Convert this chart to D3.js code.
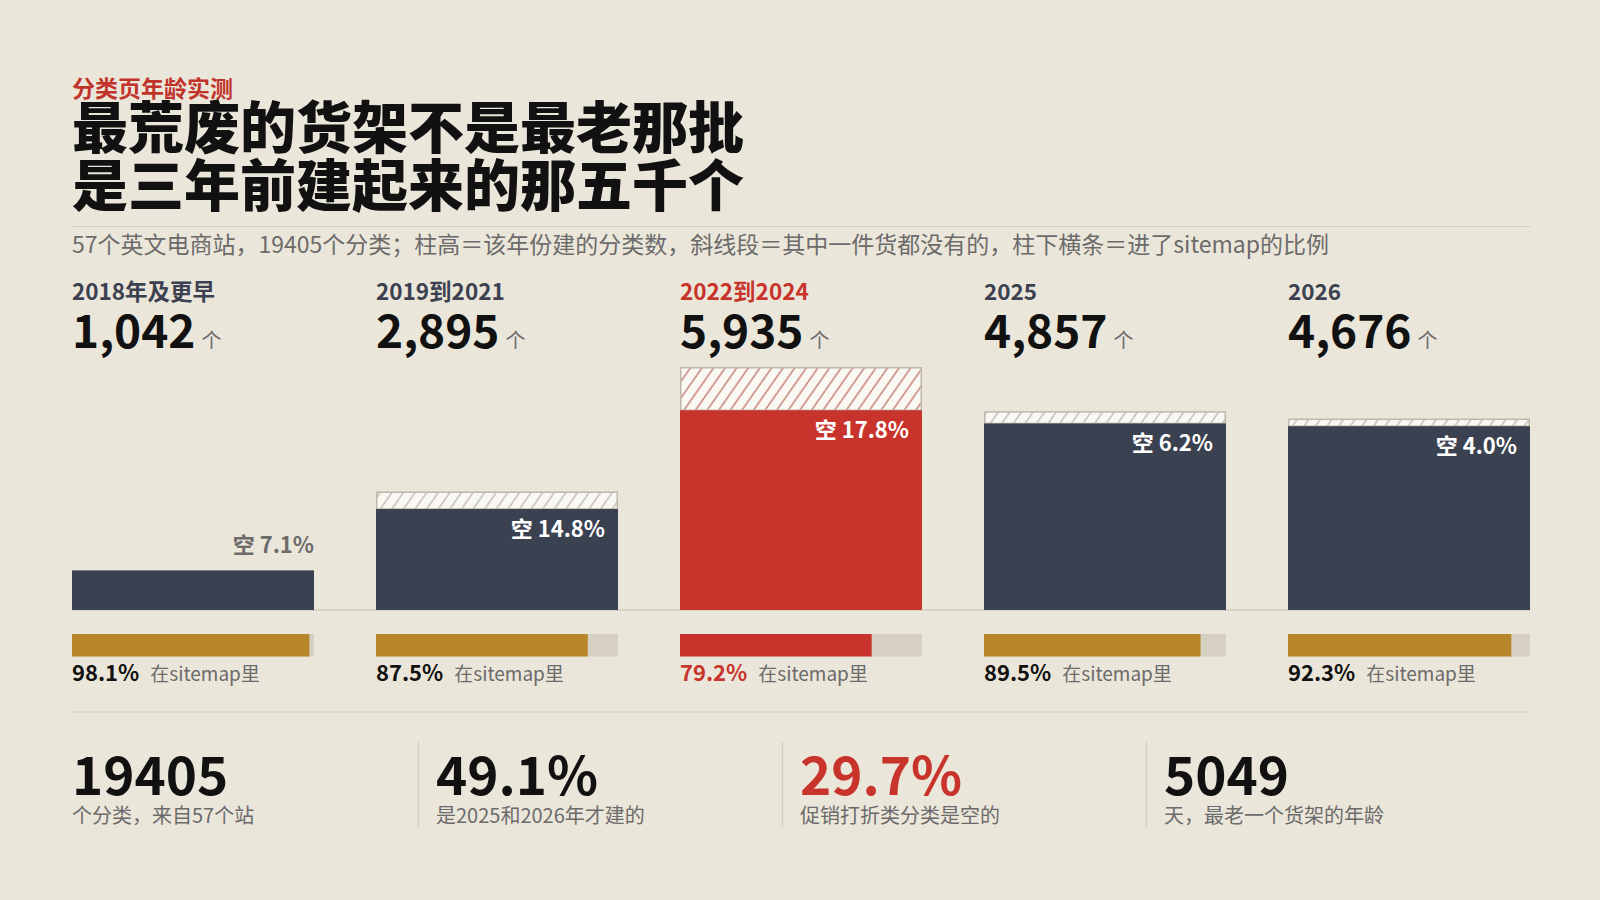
<!DOCTYPE html>
<html><head><meta charset="utf-8">
<script src="https://cdn.jsdelivr.net/npm/d3@7"></script>
<style>
html,body{margin:0;padding:0;background:#ebe6da;}
svg{display:block;font-family:"Noto Sans CJK SC","Noto Sans",sans-serif;}
</style></head><body>
<svg id="chart" width="1600" height="900"></svg>
<script>
// ---- data ----
const eyebrow = "分类页年龄实测";
const titleLines = ["最荒废的货架不是最老那批", "是三年前建起来的那五千个"];
const subtitle = "57个英文电商站，19405个分类；柱高＝该年份建的分类数，斜线段＝其中一件货都没有的，柱下横条＝进了sitemap的比例";
const categories = ["2018年及更早", "2019到2021", "2022到2024", "2025", "2026"];
const counts = [1042, 2895, 5935, 4857, 4676];
const emptyPct = [7.1, 14.8, 17.8, 6.2, 4.0];
const sitemapPct = [98.1, 87.5, 79.2, 89.5, 92.3];
const highlightIndex = 2;
const kpiValues = ["19405", "49.1%", "29.7%", "5049"];
const kpiLabels = ["个分类，来自57个站", "是2025和2026年才建的", "促销打折类分类是空的", "天，最老一个货架的年龄"];
const kpiHighlight = 2;

// ---- style ----
const C = {
  bg: "#ebe6da", dark: "#3a4150", red: "#c8342c", gold: "#b8862a", track: "#d6d0c3",
  rule: "#d3cdbf", ink: "#111111", gray: "#6b6b6b", head: "#3b4150",
  hatchFill: "#faf8f2", hatchStroke: "#bfb8aa"
};
const left = 72, right = 1530, baseY = 610, topY = 367;

const svg = d3.select("#chart");
svg.append("rect").attr("width", 1600).attr("height", 900).attr("fill", C.bg);

const defs = svg.append("defs");
function hatch(id, color) {
  const p = defs.append("pattern").attr("id", id).attr("patternUnits", "userSpaceOnUse")
    .attr("width", 9.5).attr("height", 10).attr("patternTransform", "rotate(35)");
  p.append("rect").attr("width", 9.5).attr("height", 10).attr("fill", C.hatchFill);
  p.append("line").attr("x1", 1).attr("y1", 0).attr("x2", 1).attr("y2", 10)
    .attr("stroke", color).attr("stroke-width", 0.9);
}
hatch("hatch-dark", "#9a968e");
hatch("hatch-red", "#a32c26");

// ---- header ----
svg.append("text").attr("x", left).attr("y", 97).text(eyebrow)
  .attr("fill", "#c0342b").attr("font-size", 23).attr("font-weight", 700);
svg.selectAll("text.title").data(titleLines).join("text").attr("class", "title")
  .attr("x", left).attr("y", (d, i) => 148 + i * 58).text(d => d)
  .attr("fill", C.ink).attr("font-size", 56).attr("font-weight", 900);
svg.append("line").attr("x1", left).attr("x2", right).attr("y1", 226.5).attr("y2", 226.5)
  .attr("stroke", C.rule).attr("stroke-width", 1.2);
svg.append("text").attr("x", left).attr("y", 253).text(subtitle)
  .attr("fill", C.gray).attr("font-size", 23).attr("font-weight", 400);

// ---- scales ----
const x = d3.scaleBand().domain(categories).range([left, right]).paddingInner(62 / 304).paddingOuter(0);
const y = d3.scaleLinear().domain([0, d3.max(counts)]).range([baseY, topY]);
const bw = x.bandwidth();

// baseline
svg.append("line").attr("x1", left).attr("x2", right).attr("y1", baseY).attr("y2", baseY)
  .attr("stroke", C.rule).attr("stroke-width", 1.5);

const data = categories.map((c, i) => ({ c, i, n: counts[i], e: emptyPct[i], s: sitemapPct[i], hi: i === highlightIndex }));

const col = svg.selectAll("g.col").data(data).join("g").attr("class", "col")
  .attr("transform", d => `translate(${x(d.c)},0)`);

// column header
col.append("text").attr("y", 300).text(d => d.c)
  .attr("fill", d => d.hi ? C.red : C.head).attr("font-size", 22.5).attr("font-weight", 700);
col.each(function (d) {
  const g = d3.select(this);
  const t = g.append("text").attr("y", 348).text(d3.format(",")(d.n))
    .attr("fill", C.ink).attr("font-size", 46).attr("font-weight", 700);
  const w = t.node().getComputedTextLength();
  g.append("text").attr("x", w + 6).attr("y", 348).text("个")
    .attr("fill", C.gray).attr("font-size", 20).attr("font-weight", 400);

  const yTop = y(d.n);
  const ySolid = y(d.n * (1 - d.e / 100));
  const hatchH = ySolid - yTop;
  if (hatchH >= 5) {
    g.append("rect").attr("x", 0.75).attr("y", yTop + 0.75).attr("width", bw - 1.5).attr("height", hatchH - 0.75)
      .attr("fill", d.hi ? "url(#hatch-red)" : "url(#hatch-dark)")
      .attr("stroke", C.hatchStroke).attr("stroke-width", 1.5);
  }
  g.append("rect").attr("x", 0).attr("y", ySolid).attr("width", bw).attr("height", baseY - ySolid)
    .attr("fill", d.hi ? C.red : C.dark);
  const inside = (baseY - ySolid) > 60;
  g.append("text")
    .attr("x", inside ? bw - 13 : bw)
    .attr("y", inside ? ySolid + 28 : ySolid - 17)
    .attr("text-anchor", "end").text("空 " + d.e.toFixed(1) + "%")
    .attr("fill", inside ? "#ffffff" : C.gray).attr("font-size", 22).attr("font-weight", 700);

  // sitemap bar
  const sx = d3.scaleLinear().domain([0, 100]).range([0, bw]);
  g.append("rect").attr("x", 0).attr("y", 634).attr("width", sx(100)).attr("height", 22.5).attr("fill", C.track);
  g.append("rect").attr("x", 0).attr("y", 634).attr("width", sx(d.s)).attr("height", 22.5)
    .attr("fill", d.hi ? C.red : C.gold);
  const p = g.append("text").attr("y", 681).text(d.s.toFixed(1) + "%")
    .attr("fill", d.hi ? C.red : C.ink).attr("font-size", 22).attr("font-weight", 700);
  const pw = p.node().getComputedTextLength();
  g.append("text").attr("x", pw + 11).attr("y", 681).text("在sitemap里")
    .attr("fill", C.gray).attr("font-size", 19).attr("font-weight", 400);
});

// ---- KPIs ----
svg.append("line").attr("x1", left).attr("x2", right).attr("y1", 712).attr("y2", 712)
  .attr("stroke", C.rule).attr("stroke-width", 1.2);
const kx = d3.scaleBand().domain(d3.range(kpiValues.length)).range([left, left + 1456]);
const kg = svg.selectAll("g.kpi").data(kpiValues).join("g").attr("class", "kpi")
  .attr("transform", (d, i) => `translate(${kx(i)},0)`);
kg.filter((d, i) => i > 0).append("line").attr("x1", -17.5).attr("x2", -17.5).attr("y1", 742).attr("y2", 827)
  .attr("stroke", C.rule).attr("stroke-width", 1.2);
kg.append("text").attr("y", 795).text(d => d)
  .attr("fill", (d, i) => i === kpiHighlight ? C.red : C.ink).attr("font-size", 53).attr("font-weight", 700);
kg.append("text").attr("y", 823).text((d, i) => kpiLabels[i])
  .attr("fill", C.gray).attr("font-size", 20).attr("font-weight", 400);
</script>
</body></html>
